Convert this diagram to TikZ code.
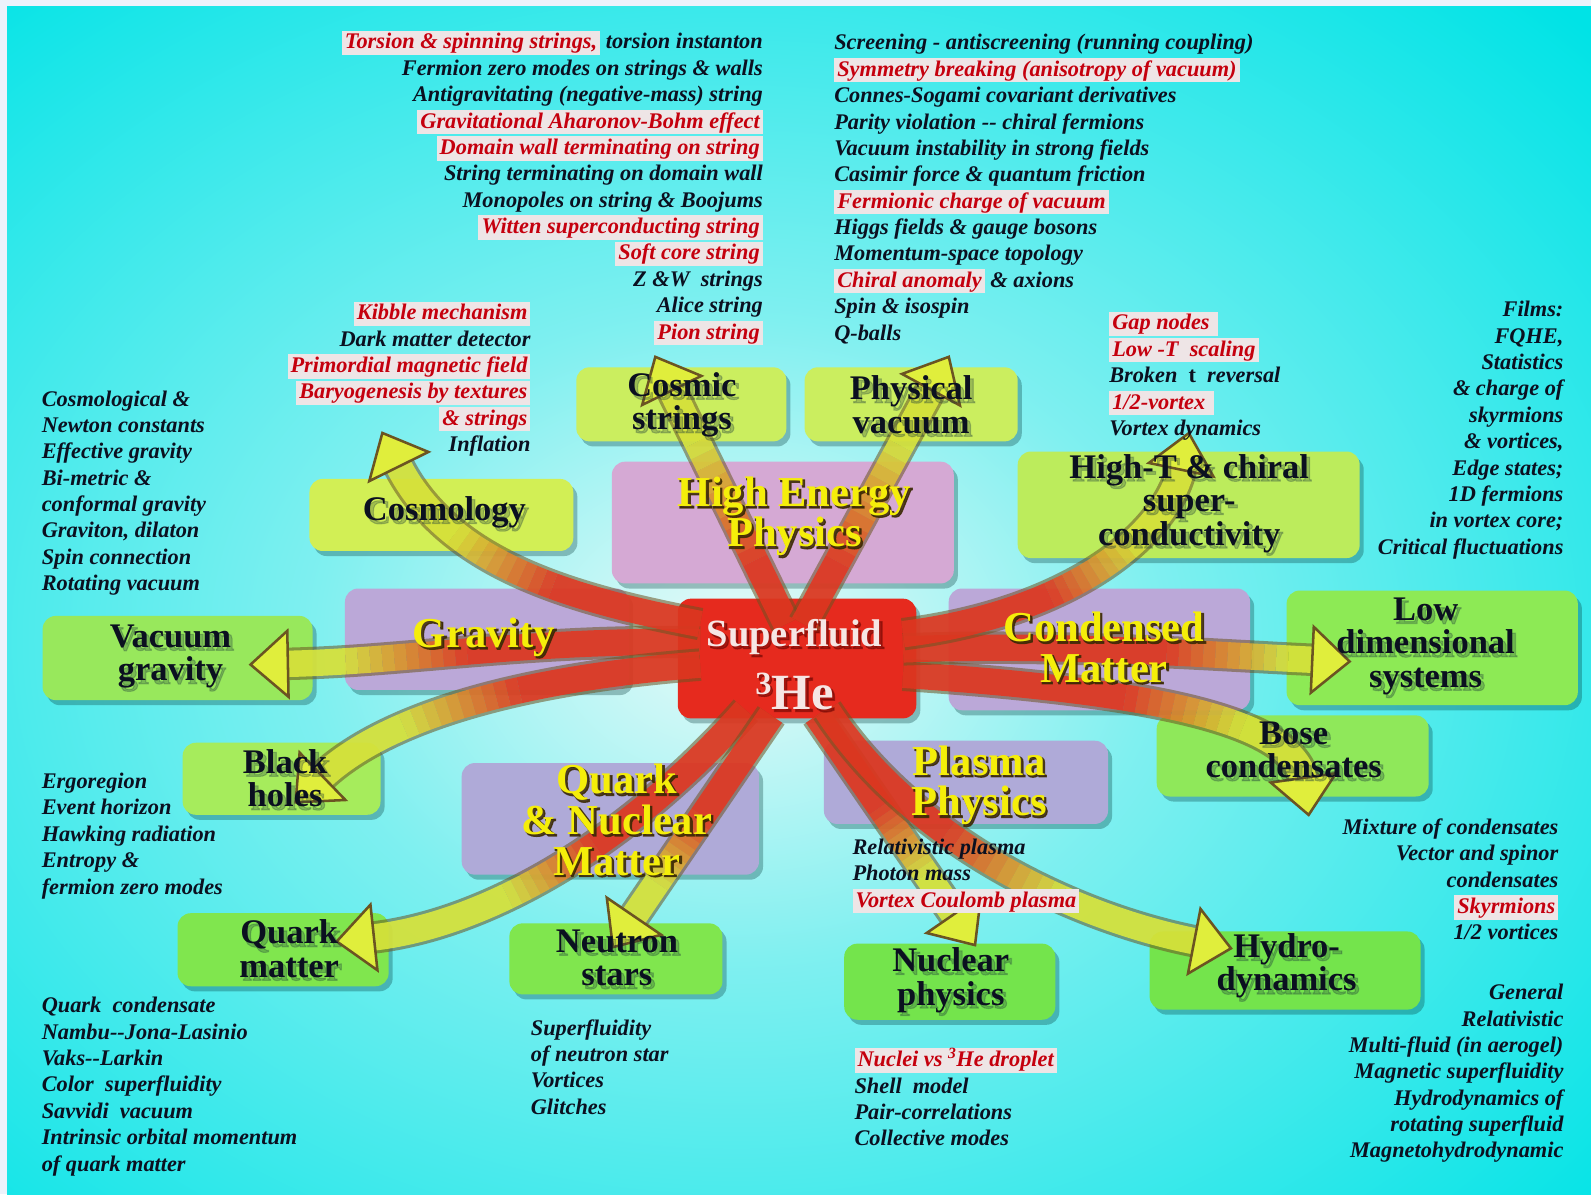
\documentclass[tikz,border=0pt]{standalone}
\usepackage{fontspec}
\setmainfont{Liberation Serif}
\newfontface\labfont{Liberation Serif Bold}
\newfontface\labshfont[FakeBold=3]{Liberation Serif Bold}
\newfontface\itfont{Liberation Serif Bold Italic}
\usetikzlibrary{arrows.meta,shadows}

\definecolor{bgc}{HTML}{00E3E6}
\definecolor{framec}{HTML}{EDF2FB}
\definecolor{glowc}{HTML}{E8FAF8}
\colorlet{glowm}{glowc!55!bgc}
\definecolor{txt}{HTML}{0B1020}
\definecolor{hlred}{HTML}{C5000E}
\definecolor{hlbg}{HTML}{EEE5E6}
\definecolor{ylw}{HTML}{F5EE0A}
\definecolor{ylwsh}{HTML}{3C2A05}
\definecolor{labsh}{HTML}{1F3D3A}
\definecolor{hewhite}{HTML}{F6E6E4}
\definecolor{hesh}{HTML}{7A0A05}
\definecolor{arrred}{HTML}{E6341F}
\definecolor{arryel}{HTML}{E0EE3C}
\definecolor{arredge}{HTML}{6B5422}
\definecolor{pinkc}{HTML}{D5A9D4}
\definecolor{lavc}{HTML}{BBA8D8}
\definecolor{lavb}{HTML}{AFAAD8}
\definecolor{hered}{HTML}{E62A1E}
\definecolor{gA}{HTML}{CBEE5F}
\definecolor{gB}{HTML}{D2EF55}
\definecolor{gC}{HTML}{BCEC5C}
\definecolor{gD}{HTML}{98E85C}
\definecolor{gE}{HTML}{8DEA55}
\definecolor{gF}{HTML}{A6EC5C}
\definecolor{gG}{HTML}{8FE85A}
\definecolor{gH}{HTML}{80E64E}
\definecolor{gI}{HTML}{74E44C}

\pgfdeclareradialshading{glow}{\pgfpoint{0bp}{0bp}}{color(0bp)=(glowc); color(9bp)=(glowm); color(25bp)=(bgc); color(50bp)=(bgc)}

\newcommand\hlt[1]{{\setlength{\fboxsep}{0pt}\colorbox{hlbg}{\rule[-6pt]{0pt}{24pt}\hspace{3pt}\textcolor{hlred}{#1}\hspace{3pt}}}}
\newcommand\lstrut{\rule[-6pt]{0pt}{24pt}}
\newcommand\lstfont{\itfont\fontsize{22}{26}\selectfont\lineskiplimit=-50pt\relax}

\tikzset{
 gbox/.style={rounded corners=13pt, inner sep=0pt, drop shadow={shadow xshift=4pt,shadow yshift=-5pt,opacity=.3,fill=black!60!teal}},
 blabfg/.style={text=txt, font=\labfont\fontsize{34}{33}\selectfont, align=center, inner sep=0pt},
 blabsh/.style={text=labsh, text opacity=.28, font=\labshfont\fontsize{34}{33}\selectfont, align=center, inner sep=0pt},
 ylabfg/.style={text=ylw, font=\labfont\fontsize{42}{40}\selectfont, align=center, inner sep=0pt},
 ylabol/.style={text=ylwsh, text opacity=.85, font=\labshfont\fontsize{42}{40}\selectfont, align=center, inner sep=0pt},
 lst/.style={text=txt, font=\lstfont, inner sep=0pt},
 lstr/.style={lst, align=right, anchor=north east},
 lstl/.style={lst, align=left, anchor=north west},
 aedge/.style={line width=32pt, draw=arredge, opacity=.55, shorten >=35pt},
 abody/.style={line width=26pt, opacity=.85, shorten >=35pt},
 atip/.style={line width=1pt, draw=arryel, dash pattern=on 0pt off 3000pt, -{Triangle[width=70pt,length=40pt,fill=arryel,color=arredge,line width=2.5pt]}}
}

\newcommand\garrow[3]{%
  \draw[aedge] #1;
  \draw[abody, draw=arrred, dash pattern=on #2pt off 3000pt] #1;
  \foreach \k in {0,...,9}{%
    \pgfmathsetmacro\ga{#2+(#3-#2)*\k/10}%
    \pgfmathsetmacro\gl{(#3-#2)/10}%
    \pgfmathtruncatemacro\gc{95-\k*10}%
    \draw[abody, draw=arrred!\gc!arryel, dash pattern=on 0pt off \ga pt on \gl pt off 3000pt] #1;
  }%
  \draw[abody, draw=arryel, dash pattern=on 0pt off #3pt on 3000pt] #1;
  \draw[atip] #1;
}

\newcommand\blab[3]{%
  \node[blabsh, xshift=3pt, yshift=-3pt] (#1s) at (#2) {#3};
  \node[blabfg] (#1) at (#2) {#3};}
\newcommand\ylab[3]{%
  \node[ylabol, xshift=1.5pt, yshift=-1.5pt] (#1o) at (#2) {#3};
  \node[ylabfg] (#1) at (#2) {#3};}

\begin{document}
\begin{tikzpicture}[x=1pt,y=-1pt]
\useasboundingbox (0,0) rectangle (1568,1177);
\fill[framec] (0,0) rectangle (1568,1177);
\fill[bgc] (7,6) rectangle (1568,1177);
\begin{scope}
\clip (7,6) rectangle (1568,1177);
\shade[shading=glow] (725,630) ellipse [x radius=1150pt, y radius=880pt];
\end{scope}

% category boxes
\node[gbox, fill=pinkc, minimum width=337pt, minimum height=120pt] (hep) at (771.5,515) {};
\node[gbox, fill=lavc, minimum width=280pt, minimum height=100pt] (grav) at (480,630) {};
\node[gbox, fill=lavc, minimum width=297pt, minimum height=120pt] (cm) at (1083.5,640) {};
\node[gbox, fill=lavb, minimum width=293pt, minimum height=110pt] (qnm) at (601.5,807) {};
\node[gbox, fill=lavb, minimum width=280pt, minimum height=82pt] (pp) at (952,771) {};

% target boxes
\node[gbox, fill=gA, minimum width=207pt, minimum height=73pt] (cs) at (671.5,398.5) {};
\node[gbox, fill=gA, minimum width=210pt, minimum height=73pt] (pv) at (898,398.5) {};
\node[gbox, fill=gB, minimum width=260pt, minimum height=71pt] (cosmo) at (435,507.5) {};
\node[gbox, fill=gC, minimum width=337pt, minimum height=105pt] (htc) at (1171.5,497.5) {};
\node[gbox, fill=gD, minimum width=266pt, minimum height=83pt] (vg) at (175,648.5) {};
\node[gbox, fill=gE, minimum width=287pt, minimum height=113pt] (ld) at (1411.5,638.5) {};
\node[gbox, fill=gF, minimum width=195pt, minimum height=71pt] (bh) at (277.5,767.5) {};
\node[gbox, fill=gG, minimum width=268pt, minimum height=80pt] (bose) at (1274,745) {};
\node[gbox, fill=gH, minimum width=208pt, minimum height=72pt] (qm) at (279,936) {};
\node[gbox, fill=gH, minimum width=210pt, minimum height=70pt] (ns) at (607,945) {};
\node[gbox, fill=gI, minimum width=208pt, minimum height=75pt] (np) at (936,967.5) {};
\node[gbox, fill=gI, minimum width=267pt, minimum height=77pt] (hy) at (1266.5,956.5) {};

% centre
\node[gbox, fill=hered, minimum width=235pt, minimum height=118pt] (he) at (785.5,649) {};

% arrows
\coordinate (s1) at (775,615);  \coordinate (t1) at (645,350);
\coordinate (s2) at (792,615);  \coordinate (t2) at (936,350);
\coordinate (s3) at (690,615);  \coordinate (t3) at (376,425);
\coordinate (s4) at (690,633);  \coordinate (t4) at (245,655);
\coordinate (s5) at (690,655);  \coordinate (t5) at (290,792);
\coordinate (s6) at (735,700);  \coordinate (t6) at (330,928);
\coordinate (s7) at (760,705);  \coordinate (t7) at (603,935);
\coordinate (s8) at (805,705);  \coordinate (t8) at (962,933);
\coordinate (s9) at (815,700);  \coordinate (t9) at (1215,935);
\coordinate (s10) at (890,665); \coordinate (t10) at (1290,805);
\coordinate (s11) at (890,640); \coordinate (t11) at (1332,652);
\coordinate (s12) at (890,625); \coordinate (t12) at (1172,425);

\garrow{(s4) .. controls (520,630) and (400,652) .. (t4)}{230}{350}
\garrow{(s3) .. controls (560,590) and (440,555) .. (t3)}{150}{260}
\garrow{(s5) .. controls (520,668) and (380,705) .. (t5)}{180}{300}
\garrow{(s6) .. controls (620,830) and (480,912) .. (t6)}{200}{300}
\garrow{(s7) -- (t7)}{120}{200}
\garrow{(s8) -- (t8)}{110}{190}
\garrow{(s9) .. controls (900,830) and (1060,905) .. (t9)}{170}{300}
\garrow{(s10) .. controls (1080,678) and (1275,700) .. (t10)}{220}{340}
\garrow{(s11) .. controls (1050,634) and (1200,646) .. (t11)}{260}{380}
\garrow{(s12) .. controls (1050,605) and (1150,530) .. (t12)}{150}{250}
\garrow{(s1) -- (t1)}{70}{200}
\garrow{(s2) -- (t2)}{70}{200}

% box labels
\blab{csl}{672,399}{Cosmic\\strings}
\blab{pvl}{898,399}{Physical\\vacuum}
\blab{cosl}{438,505}{Cosmology}
\blab{htl}{1172,496}{High-T \& chiral\\super-\\conductivity}
\blab{vgl}{168,647}{Vacuum\\gravity}
\blab{ldl}{1405,637}{Low\\dimensional\\systems}
\blab{bhl}{281,767}{Black\\holes}
\blab{bol}{1275,739}{Bose\\condensates}
\blab{qml}{285,935}{Quark\\matter}
\blab{nsl}{608,944}{Neutron\\stars}
\blab{npl}{937,966}{Nuclear\\physics}
\blab{hyl}{1268,952}{Hydro-\\dynamics}

\ylab{hepl}{783,509}{High Energy\\Physics}
\ylab{grl}{477,628}{Gravity}
\ylab{cml}{1088,638}{Condensed\\Matter}
\ylab{qnl}{608,808}{Quark\\\& Nuclear\\Matter}
\ylab{ppl}{965,774}{Plasma\\Physics}

\node[font=\labshfont\fontsize{38}{62}\selectfont, text=hesh, text opacity=.6, align=center, inner sep=0pt, xshift=2pt, yshift=-2pt] (hels) at (783,655) {Superfluid\\\fontsize{50}{62}\selectfont\raisebox{15pt}{\fontsize{32}{32}\selectfont 3}He};
\node[font=\labfont\fontsize{38}{62}\selectfont, text=hewhite, align=center, inner sep=0pt] (hel) at (783,655) {Superfluid\\\fontsize{50}{62}\selectfont\raisebox{15pt}{\fontsize{32}{32}\selectfont 3}He};

% lists
\node[lstr] (l1) at (752,30) {\hlt{Torsion \& spinning strings,} torsion instanton\\
Fermion zero modes on strings \& walls\\
Antigravitating (negative-mass) string\\
\hlt{Gravitational Aharonov-Bohm effect}\\
\hlt{Domain wall terminating on string}\\
String terminating on domain wall\\
Monopoles on string \& Boojums\\
\hlt{Witten superconducting string}\\
\hlt{Soft core string}\\
Z \&W\ \ strings\\
Alice string\\
\hlt{Pion string}};

\node[lstl] (l2) at (822,31) {\lstrut Screening - antiscreening (running coupling)\\
\hlt{Symmetry breaking (anisotropy of vacuum)}\\
Connes-Sogami covariant derivatives\\
Parity violation -{}- chiral fermions\\
Vacuum instability in strong fields\\
Casimir force \& quantum friction\\
\hlt{Fermionic charge of vacuum}\\
Higgs fields \& gauge bosons\\
Momentum-space topology\\
\hlt{Chiral anomaly} \& axions\\
Spin \& isospin\\
Q-balls};

\node[lstr] (l3) at (523,297) {\hlt{Kibble mechanism}\\
Dark matter detector\\
\hlt{Primordial magnetic field}\\
\hlt{Baryogenesis by textures}\\
\hlt{\& strings}\\
Inflation};

\node[lstl] (l4) at (41,382) {\lstrut Cosmological \&\\ Newton constants\\ Effective gravity\\ Bi-metric \&\\ conformal gravity\\ Graviton, dilaton\\ Spin connection\\ Rotating vacuum};

\node[lstl] (l5) at (1093,307) {\hlt{Gap nodes\ }\\ \hlt{Low -T\ \ scaling}\\ Broken\ \ {\labfont t}\ \ reversal\\ \hlt{1/2-vortex\ }\\ Vortex dynamics};

\node[lstr] (l6) at (1541,294) {\lstrut Films:\\ FQHE,\\ Statistics\\ \& charge of\\ skyrmions\\ \& vortices,\\ Edge states;\\ 1D fermions\\ in vortex core;\\ Critical fluctuations};

\node[lstl] (l7) at (41,759) {\lstrut Ergoregion\\ Event horizon\\ Hawking radiation\\ Entropy \&\\ fermion zero modes};

\node[lstl] (l8) at (41,980) {\lstrut Quark\ \ condensate\\ Nambu-{}-Jona-Lasinio\\ Vaks-{}-Larkin\\ Color\ \ superfluidity\\ Savvidi\ \ vacuum\\ Intrinsic orbital momentum\\ of quark matter};

\node[lstl] (l9) at (523,1002) {\lstrut Superfluidity\\ of neutron star\\ Vortices\\ Glitches};

\node[lstl] (l10) at (840,824) {\lstrut Relativistic plasma\\ Photon mass\\ \hlt{Vortex Coulomb plasma}};

\node[lstl] (l11) at (842,1033) {\hlt{Nuclei vs \textsuperscript{3}He droplet}\\ Shell\ \ model\\ Pair-correlations\\ Collective modes};

\node[lstr] (l12) at (1536,804) {\lstrut Mixture of condensates\\ Vector and spinor\\ condensates\\ \hlt{Skyrmions}\\ 1/2 vortices};

\node[lstr] (l13) at (1541,967) {\lstrut General\\ Relativistic\\ Multi-fluid (in aerogel)\\ Magnetic superfluidity\\ Hydrodynamics of\\ rotating superfluid\\ Magnetohydrodynamic};
\end{tikzpicture}
\end{document}
